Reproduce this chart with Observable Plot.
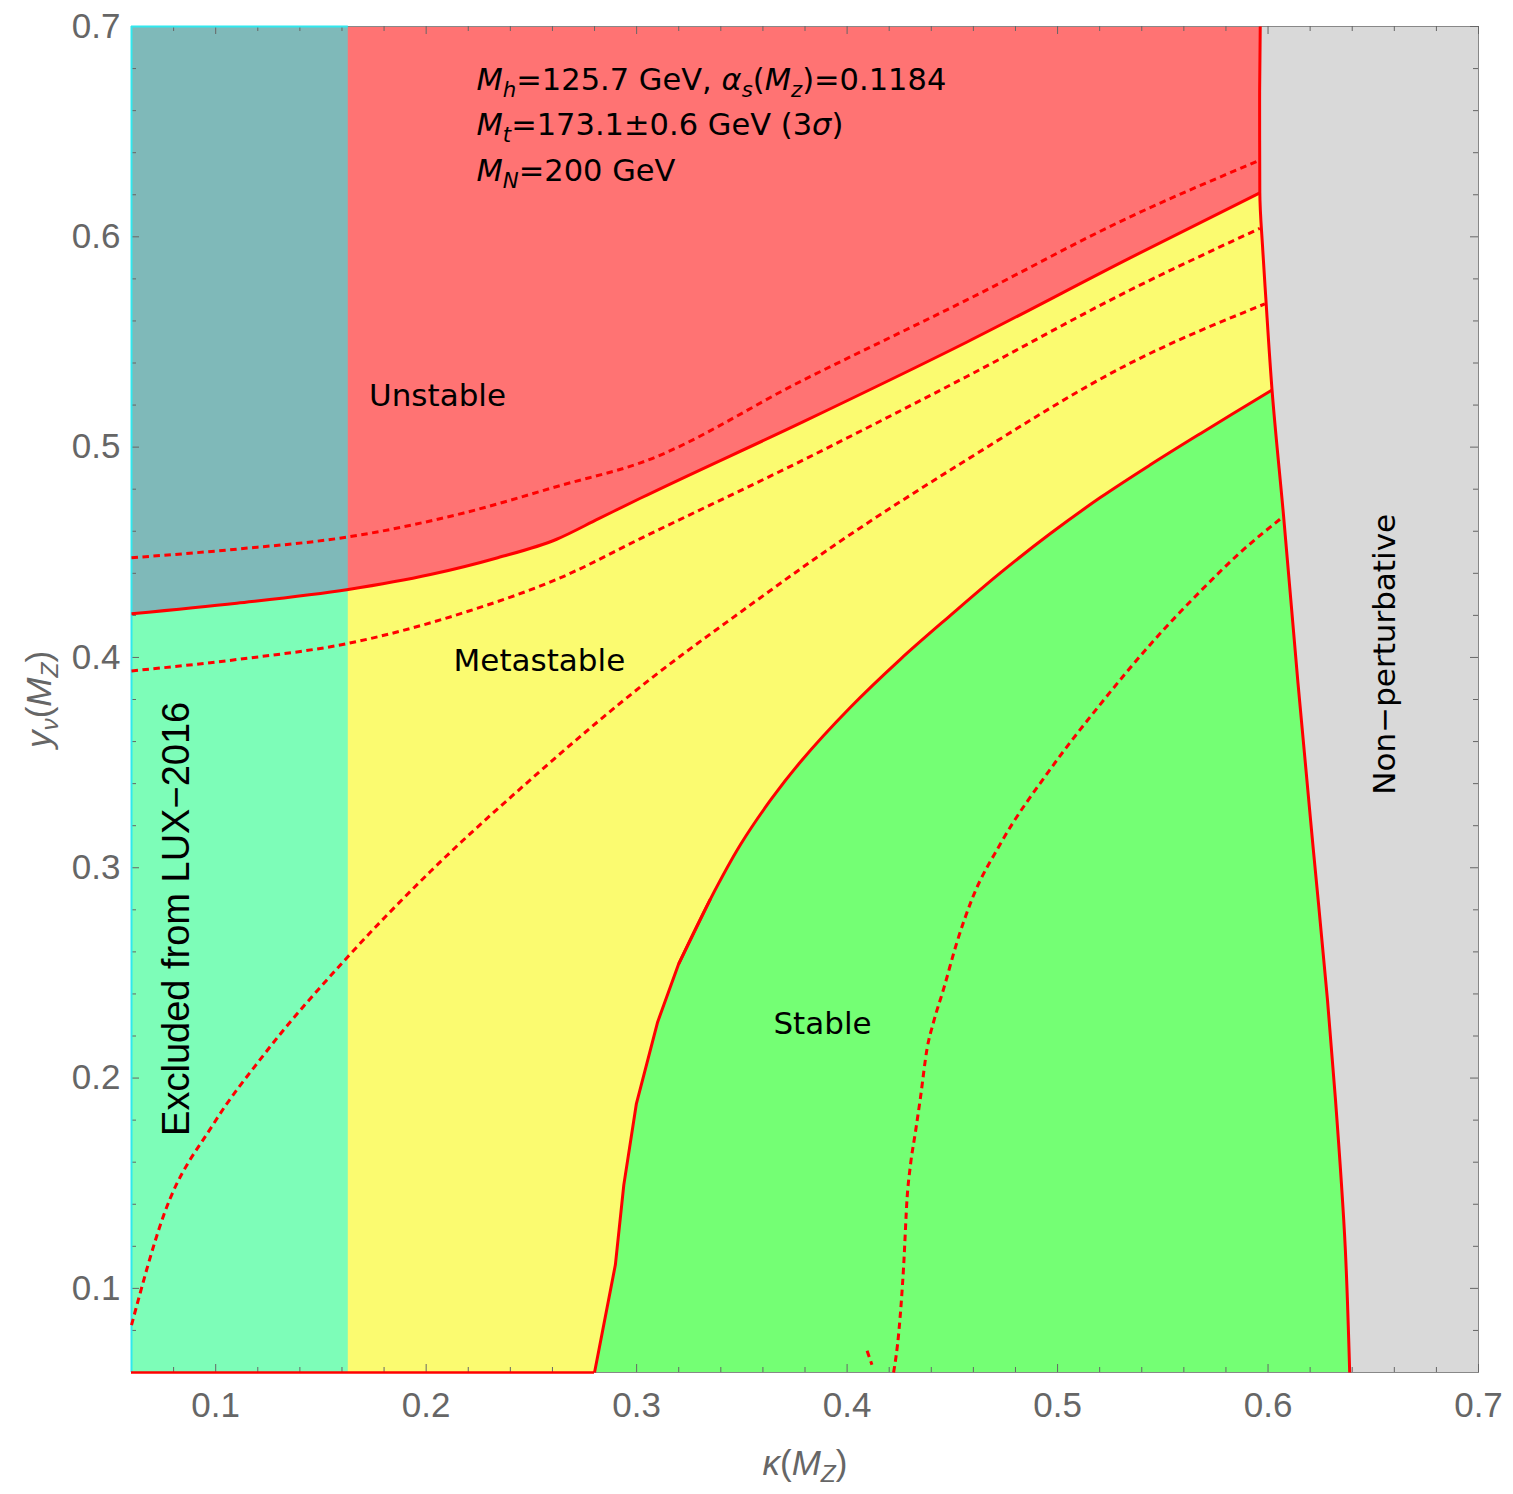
<!DOCTYPE html>
<html>
<head>
<meta charset="utf-8">
<script src="https://cdn.jsdelivr.net/npm/d3@7"></script>
<script src="https://cdn.jsdelivr.net/npm/@observablehq/plot@0.6"></script>
<style>
  body { margin: 0; background: #fff; }
</style>
</head>
<body>
<div id="chart"></div>
<script>
// Axis ranges: kappa(M_Z) horizontally, y_nu(M_Z) vertically
const kRange = [0.06, 0.7];
const yRange = [0.06, 0.7];
const majorK = [0.1, 0.2, 0.3, 0.4, 0.5, 0.6, 0.7];
const majorY = [0.1, 0.2, 0.3, 0.4, 0.5, 0.6, 0.7];
const minorK = d3.range(4, 35).filter(i => i % 5 !== 0).map(i => i / 50);
const minorY = minorK;

// LUX-2016 exclusion: kappa below this value
const luxLimit = 0.163;

// Unstable / metastable boundary (central M_t)
const metaK = [0.06, 0.11, 0.163, 0.202, 0.234, 0.262, 0.282, 0.302, 0.379, 0.457, 0.5345, 0.5961];
const metaY = [0.4208, 0.4258, 0.4323, 0.4394, 0.4474, 0.4562, 0.4660, 0.4758, 0.5120, 0.5500, 0.5900, 0.6209];
// same boundary for M_t shifted by -3 sigma / +3 sigma
const metaHiK = [0.06, 0.11, 0.163, 0.2179, 0.2654, 0.3018, 0.3794, 0.4569, 0.5345, 0.5961];
const metaHiY = [0.4474, 0.4515, 0.4573, 0.4687, 0.4822, 0.4925, 0.5320, 0.5700, 0.6095, 0.6364];
const metaLoK = [0.06, 0.11, 0.163, 0.2179, 0.2654, 0.3018, 0.3794, 0.4569, 0.5345, 0.5961];
const metaLoY = [0.3936, 0.3990, 0.4067, 0.4213, 0.4386, 0.4565, 0.4940, 0.5336, 0.5747, 0.6040];

// Metastable / stable boundary (central M_t)
const stableK = [0.2800, 0.2899, 0.2939, 0.2999, 0.3100, 0.3200, 0.3351, 0.3493, 0.3636, 0.3778, 0.4016, 0.4253, 0.4491, 0.4728, 0.4966, 0.5203, 0.5441, 0.5678, 0.6019];
const stableY = [0.0600, 0.1112, 0.1491, 0.1879, 0.2267, 0.2543, 0.2852, 0.3109, 0.3321, 0.3503, 0.3763, 0.3991, 0.4200, 0.4402, 0.4589, 0.4760, 0.4916, 0.5064, 0.5272];
// same boundary for M_t shifted by -3 sigma / +3 sigma
const stableHiK = [0.06, 0.0753, 0.0991, 0.1229, 0.163, 0.202, 0.2495, 0.3066, 0.350, 0.391, 0.4569, 0.5345, 0.5985];
const stableHiY = [0.0825, 0.1348, 0.1784, 0.2111, 0.2579, 0.2982, 0.3418, 0.3898, 0.4220, 0.4513, 0.4940, 0.5399, 0.5681];
const stableLoK = [0.4221, 0.4246, 0.4269, 0.4285, 0.4301, 0.4325, 0.4348, 0.4380, 0.4411, 0.4459, 0.4522, 0.4594, 0.4728, 0.4966, 0.5203, 0.5441, 0.5678, 0.5868, 0.6073];
const stableLoY = [0.0600, 0.0795, 0.1112, 0.1428, 0.1586, 0.1745, 0.1903, 0.2140, 0.2267, 0.2425, 0.2646, 0.2852, 0.3113, 0.3469, 0.3777, 0.4062, 0.4314, 0.4499, 0.4670];
const stableLoTailK = [0.4095, 0.4118];
const stableLoTailY = [0.0703, 0.0637];

// Perturbativity limit, listed from top to bottom
const pertY = [0.7, 0.6649, 0.6209, 0.5937, 0.5700, 0.5272, 0.4671, 0.3882, 0.3089, 0.2377, 0.1903, 0.1191, 0.06];
const pertK = [0.5963, 0.5960, 0.5961, 0.5975, 0.5990, 0.6019, 0.6074, 0.6142, 0.6215, 0.6282, 0.6320, 0.6367, 0.6388];

// Labels ("*..*" italic, "_{..}" italic subscript)
const notes = [
  {text: "*M*_{h}=125.7 GeV, *α*_{s}(*M*_{z})=0.1184", k: 0.2239, y: 0.6744},
  {text: "*M*_{t}=173.1±0.6 GeV (3*σ*)", k: 0.2239, y: 0.6530},
  {text: "*M*_{N}=200 GeV", k: 0.2239, y: 0.6312}
];
const regionLabels = [
  {text: "Unstable", k: 0.2054, y: 0.5244, angle: 0},
  {text: "Metastable", k: 0.2538, y: 0.3981, angle: 0},
  {text: "Stable", k: 0.3883, y: 0.2259, angle: 0},
  {text: "Non\u2212perturbative", k: 0.6557, y: 0.4015, angle: -90}
];
const luxLabel = [{text: "Excluded from LUX\u22122016", k: 0.0814, y: 0.2757}];
const xLabel = "*κ*(*M*_{Z})";
const yLabel = "*y*_{ν}(*M*_{Z})";

// ---- layout ----
const W = 1513, H = 1494;
const mL = 131, mR = 35, mT = 26, mB = 122;
const plotW = W - mL - mR, plotH = H - mT - mB;

const RED = "#ff0000";
const sansMath = "'DejaVu Sans', sans-serif";
const sansAxis = "'Liberation Sans', Arial, sans-serif";

const pts = (K, Y) => K.map((k, i) => ({k, y: Y[i]}));
const pert = pts(pertK, pertY);
const stableLine = pts(stableK, stableY);
const box = [{k1: kRange[0], k2: kRange[1], y1: yRange[0], y2: yRange[1]}];
const luxBox = [{k1: kRange[0], k2: luxLimit, y1: yRange[0], y2: yRange[1]}];

// region outlines assembled from the boundaries
const unstablePoly = [{k: kRange[0], y: yRange[1]}, ...pert, {k: kRange[0], y: yRange[0]}];
const metaPoly = [...pts(metaK, metaY), ...pert.filter(p => p.y < metaY[metaY.length - 1]), {k: kRange[0], y: yRange[0]}];
const stablePoly = [...stableLine, ...pert.filter(p => p.y < stableY[stableY.length - 1])];

const solid = {x: "k", y: "y", stroke: RED, strokeWidth: 3, strokeLinecap: "butt"};
const dashed = {x: "k", y: "y", stroke: RED, strokeWidth: 3, strokeDasharray: "6.5,4.5", strokeLinecap: "butt", curve: "monotone-x"};
const tickStyle = {stroke: "#666", strokeWidth: 1};

const svg = Plot.plot({
  width: W, height: H,
  marginLeft: mL, marginRight: mR, marginTop: mT, marginBottom: mB,
  x: {domain: kRange, label: null},
  y: {domain: yRange, label: null},
  style: {fontFamily: sansAxis, fontSize: "35px", color: "#666", background: "white"},
  marks: [
    // non-perturbative background
    Plot.rect(box, {x1: "k1", x2: "k2", y1: "y1", y2: "y2", fill: "#d9d9d9"}),
    Plot.line(unstablePoly, {x: "k", y: "y", fill: "#ff7373", stroke: "none"}),
    Plot.line(metaPoly, {x: "k", y: "y", fill: "#fbfb70", stroke: "none"}),
    Plot.line(stablePoly, {x: "k", y: "y", fill: "#74ff74", stroke: "none"}),
    // LUX exclusion overlay
    Plot.rect(luxBox, {x1: "k1", x2: "k2", y1: "y1", y2: "y2", fill: "#00ffff", fillOpacity: 0.5}),

    // frame and ticks on all four sides
    Plot.frame({stroke: "#888", strokeWidth: 1}),
    Plot.tickX(minorK, {x: d => d, insetTop: plotH - 5, ...tickStyle}),
    Plot.tickX(majorK, {x: d => d, insetTop: plotH - 8, ...tickStyle}),
    Plot.tickX(minorK, {x: d => d, insetBottom: plotH - 5, ...tickStyle}),
    Plot.tickX(majorK, {x: d => d, insetBottom: plotH - 8, ...tickStyle}),
    Plot.tickY(minorY, {y: d => d, insetRight: plotW - 5, ...tickStyle}),
    Plot.tickY(majorY, {y: d => d, insetRight: plotW - 8, ...tickStyle}),
    Plot.tickY(minorY, {y: d => d, insetLeft: plotW - 5, ...tickStyle}),
    Plot.tickY(majorY, {y: d => d, insetLeft: plotW - 8, ...tickStyle}),
    Plot.ruleX([kRange[0]], {y1: yRange[0], y2: yRange[1], stroke: "#30e8ee", strokeWidth: 2}),
    Plot.ruleY([yRange[1]], {x1: kRange[0], x2: luxLimit, stroke: "#30e8ee", strokeWidth: 2}),
    Plot.ruleY([yRange[0]], {x1: kRange[0], x2: stableK[0], stroke: RED, strokeWidth: 2.5}),

    // -3 sigma / +3 sigma boundaries
    Plot.line(pts(metaHiK, metaHiY), dashed),
    Plot.line(pts(metaLoK, metaLoY), dashed),
    Plot.line(pts(stableHiK, stableHiY), dashed),
    Plot.line(pts(stableLoK, stableLoY), dashed),
    Plot.line(pts(stableLoTailK, stableLoTailY), dashed),

    // central boundaries (stable one: angular lower part, smooth upper part)
    Plot.line(pts(metaK, metaY), {...solid, curve: "monotone-x"}),
    Plot.line(stableLine.slice(0, 7), solid),
    Plot.line(stableLine.slice(5), {...solid, curve: "catmull-rom"}),
    Plot.line(pert, {...solid, curve: "monotone-y"}),

    // text
    Plot.text(notes, {x: "k", y: "y", text: "text", textAnchor: "start", lineAnchor: "middle",
      fontFamily: sansMath, fontSize: 30.5, fill: "black"}),
    Plot.text(regionLabels, {x: "k", y: "y", text: "text", rotate: "angle", textAnchor: "middle", lineAnchor: "middle",
      fontFamily: sansMath, fontSize: 31, fill: "black"}),
    Plot.text(luxLabel, {x: "k", y: "y", text: "text", rotate: -90, textAnchor: "middle", lineAnchor: "middle",
      fontFamily: sansAxis, fontSize: 38, fill: "black"}),

    // axes
    Plot.axisX(majorK, {tickSize: 0, tickPadding: 20, tickFormat: d3.format(".1f"), fontSize: 35, label: null}),
    Plot.axisY(majorY, {tickSize: 0, tickPadding: 11, tickFormat: d3.format(".1f"), fontSize: 35, label: null}),
    Plot.text([xLabel], {frameAnchor: "bottom", dy: 91, text: d => d, textAnchor: "middle", lineAnchor: "middle",
      fontFamily: sansAxis, fontSize: 35, fill: "#666"}),
    Plot.text([yLabel], {frameAnchor: "left", dx: -92, rotate: -90, text: d => d, textAnchor: "middle", lineAnchor: "middle",
      fontFamily: sansAxis, fontSize: 35, fill: "#666"})
  ]
});

document.getElementById("chart").append(svg);

// Turn the small markup in label strings into italic runs and subscripts
function setRichText(el) {
  const src = el.textContent;
  if (!/\*|_\{/.test(src)) return;
  const fs = parseFloat(getComputedStyle(el).fontSize);
  const drop = 0.22 * fs;
  while (el.firstChild) el.removeChild(el.firstChild);
  let level = 0;
  for (const part of src.split(/(\*[^*]+\*|_\{[^}]+\})/)) {
    if (!part) continue;
    const t = document.createElementNS("http://www.w3.org/2000/svg", "tspan");
    let target = 0;
    if (part.startsWith("_{")) {
      t.textContent = part.slice(2, -1);
      t.setAttribute("font-style", "italic");
      t.setAttribute("font-size", (0.7 * fs).toFixed(1));
      target = drop;
    } else if (part.startsWith("*")) {
      t.textContent = part.slice(1, -1);
      t.setAttribute("font-style", "italic");
    } else {
      t.textContent = part;
    }
    if (target !== level) t.setAttribute("dy", (target - level).toFixed(2));
    level = target;
    el.appendChild(t);
  }
}
svg.querySelectorAll("text").forEach(setRichText);
</script>
</body>
</html>
